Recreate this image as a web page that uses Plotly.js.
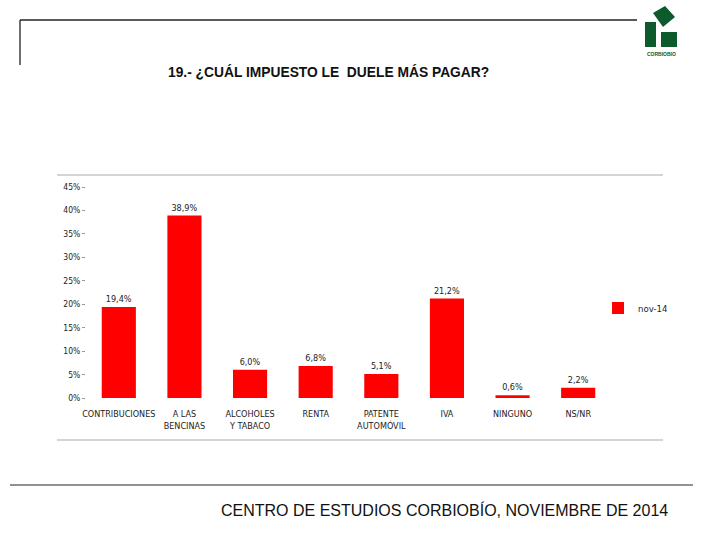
<!DOCTYPE html>
<html>
<head>
<meta charset="utf-8">
<script src="https://cdn.plot.ly/plotly-3.0.1.min.js"></script>
<style>html,body{margin:0;padding:0;background:#fff;}#chart{width:720px;height:540px;}</style>
</head>
<body>
<div id="chart"></div>
<script>
const categories = ["CONTRIBUCIONES", "A LAS<br>BENCINAS", "ALCOHOLES<br>Y TABACO", "RENTA", "PATENTE<br>AUTOMÓVIL", "IVA", "NINGUNO", "NS/NR"];
const values = [19.4, 38.9, 6.0, 6.8, 5.1, 21.2, 0.6, 2.2];
const seriesName = "nov-14";
const titleText = "19.- ¿CUÁL IMPUESTO LE  DUELE MÁS PAGAR?";
const footerText = "CENTRO DE ESTUDIOS CORBIOBÍO, NOVIEMBRE DE 2014";

const W = 720, H = 540;
const L = 86, R = 109, T = 187, B = 142;
const pw = W - L - R, ph = H - T - B;
function px(x){ return (x - L) / pw; }
function py(y){ return (H - B - y) / ph; }

const narrow = '"Liberation Sans Narrow", "DejaVu Sans Condensed", Arial, sans-serif';
const arial = 'Arial, "Liberation Sans", sans-serif';
const green = '#0d5a2c';

const labels = values.map(v => v.toFixed(1).replace('.', ',') + '%');

const trace = {
  type: 'bar',
  x: categories,
  y: values,
  name: seriesName,
  marker: {color: '#ff0000'},
  text: labels,
  textposition: 'outside',
  textfont: {family: narrow, size: 9, color: '#222'},
  cliponaxis: false
};

function line(x0,y0,x1,y1,color,w){
  return {type:'line', xref:'paper', yref:'paper', x0:px(x0), y0:py(y0), x1:px(x1), y1:py(y1), line:{color:color, width:w}};
}

const shapes = [
  line(20,20,637,20,'#222',1.3),
  line(20,20,20,65,'#222',1.3),
  line(57,175,663,175,'#aaaaaa',1.2),
  line(57,440,663,440,'#aaaaaa',1.2),
  line(10,485,693,485,'#1d2a1d',1.2),
  // logo
  {type:'path', xref:'paper', yref:'paper', fillcolor:green, line:{width:0},
   path:`M ${px(665)} ${py(6)} L ${px(675)} ${py(17)} L ${px(663)} ${py(27)} L ${px(653)} ${py(13)} Z`},
  {type:'rect', xref:'paper', yref:'paper', fillcolor:green, line:{width:0},
   x0:px(645), x1:px(656), y0:py(22), y1:py(47)},
  {type:'rect', xref:'paper', yref:'paper', fillcolor:green, line:{width:0},
   x0:px(661), x1:px(677), y0:py(32), y1:py(47)}
];

const annotations = [
  {xref:'paper', yref:'paper', x:px(328), y:py(72), text:titleText, showarrow:false,
   xanchor:'center', yanchor:'middle', font:{family:arial, size:13.8, color:'#111', weight:'bold'}},
  {xref:'paper', yref:'paper', x:px(670), y:py(510), text:footerText, showarrow:false,
   xanchor:'right', yanchor:'middle', font:{family:arial, size:16, color:'#111'}},
  {xref:'paper', yref:'paper', x:px(661), y:py(54), text:'<b>CORBIOBIO</b>', showarrow:false,
   xanchor:'center', yanchor:'middle', font:{family:arial, size:5, color:green}}
];

const layout = {
  width: W, height: H,
  margin: {l: L, r: R, t: T, b: B, pad: 0},
  paper_bgcolor: '#fff', plot_bgcolor: '#fff',
  showlegend: true,
  legend: {x: px(598), y: py(308), xanchor: 'left', yanchor: 'middle',
           font: {family: narrow, size: 9.5, color: '#222'}, bgcolor: 'rgba(0,0,0,0)'},
  bargap: 0.48,
  xaxis: {showline: false, showgrid: false, zeroline: false, ticks: '',
          ticklabelstandoff: 9,
          tickfont: {family: narrow, size: 9, color: '#222'}, fixedrange: true},
  yaxis: {range: [0, 45], dtick: 5, ticksuffix: '%', showgrid: false, zeroline: false,
          showline: false, ticks: 'outside', ticklen: 3, tickcolor: '#999',
          tickfont: {family: narrow, size: 8.5, color: '#222'}, fixedrange: true},
  shapes: shapes,
  annotations: annotations
};

Plotly.newPlot('chart', [trace], layout, {displayModeBar: false, staticPlot: true});
</script>
</body>
</html>
